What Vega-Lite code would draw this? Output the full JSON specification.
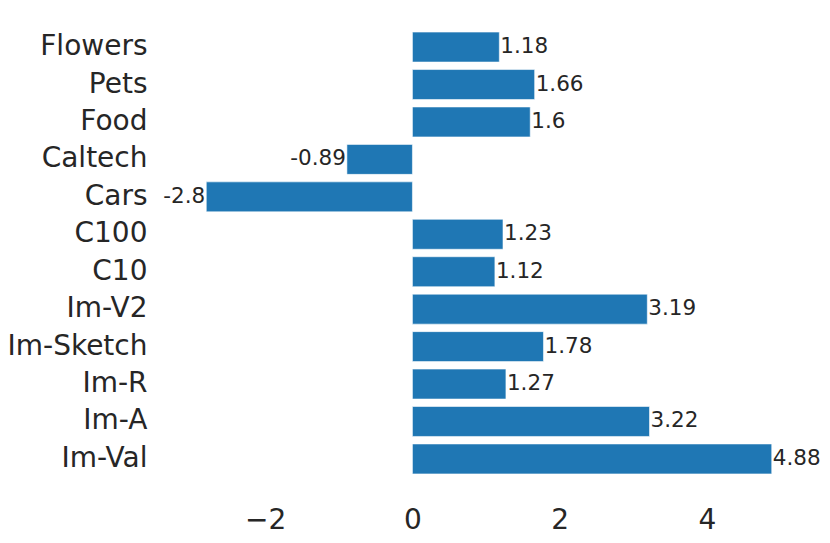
{
  "$schema": "https://vega.github.io/schema/vega-lite/v6.json",
  "autosize": "none",
  "width": 622,
  "height": 486,
  "padding": {"left": 178, "top": 10, "right": 30, "bottom": 47},
  "background": "white",
  "config": {"view": {"stroke": null}, "font": "DejaVu Sans"},
  "data": {"values": [
    {"name": "Flowers", "v": 1.18},
    {"name": "Pets", "v": 1.66},
    {"name": "Food", "v": 1.6},
    {"name": "Caltech", "v": -0.89},
    {"name": "Cars", "v": -2.8},
    {"name": "C100", "v": 1.23},
    {"name": "C10", "v": 1.12},
    {"name": "Im-V2", "v": 3.19},
    {"name": "Im-Sketch", "v": 1.78},
    {"name": "Im-R", "v": 1.27},
    {"name": "Im-A", "v": 3.22},
    {"name": "Im-Val", "v": 4.88}
  ]},
  "encoding": {
    "y": {
      "field": "name", "type": "nominal", "sort": null,
      "scale": {"paddingInner": 0.2, "paddingOuter": 0.59},
      "axis": {"title": null, "domain": false, "ticks": false, "labelFontSize": 28, "labelColor": "#262626", "labelPadding": 31, "labelFont": "DejaVu Sans"}
    }
  },
  "layer": [
    {
      "mark": {"type": "bar", "color": "#1f77b4", "stroke": "white", "strokeWidth": 0.8, "strokeOpacity": 0.7},
      "encoding": {
        "x": {
          "field": "v", "type": "quantitative",
          "scale": {"domain": [-3.184, 5.264], "nice": false, "zero": false},
          "axis": {"title": null, "domain": false, "ticks": false, "grid": false, "values": [-2, 0, 2, 4], "format": "d", "labelFontSize": 28, "labelColor": "#262626", "labelPadding": 10, "labelFont": "DejaVu Sans", "labelFlush": false}
        },
        "x2": {"datum": 0}
      }
    },
    {
      "transform": [{"filter": "datum.v >= 0"}],
      "mark": {"type": "text", "align": "left", "baseline": "middle", "dx": 1, "fontSize": 21.5, "color": "#262626"},
      "encoding": {
        "x": {"field": "v", "type": "quantitative"},
        "text": {"field": "v", "type": "nominal"}
      }
    },
    {
      "transform": [{"filter": "datum.v < 0"}],
      "mark": {"type": "text", "align": "right", "baseline": "middle", "dx": -1, "fontSize": 21.5, "color": "#262626"},
      "encoding": {
        "x": {"field": "v", "type": "quantitative"},
        "text": {"field": "v", "type": "nominal"}
      }
    }
  ]
}
